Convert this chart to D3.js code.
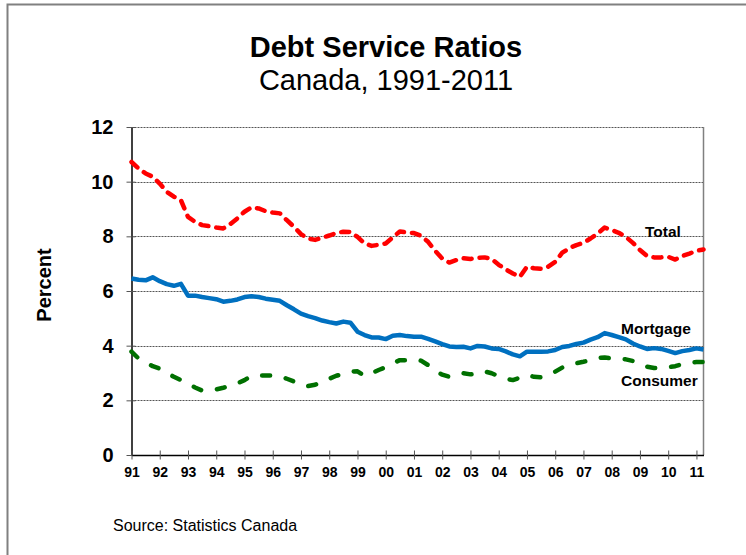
<!DOCTYPE html>
<html>
<head>
<meta charset="utf-8">
<title>Debt Service Ratios</title>
<script src="https://cdnjs.cloudflare.com/ajax/libs/d3/7.8.5/d3.min.js"></script>
<style>
  html, body { margin: 0; padding: 0; background: #fff; }
  svg { display: block; font-family: "Liberation Sans", Arial, sans-serif; }
</style>
</head>
<body>
<svg id="chart" width="746" height="555"></svg>
<script>
// Quarterly data, 1991Q1 - 2011Q2
var startYear = 1991;

var total = [
  10.72, 10.48, 10.30, 10.18, 9.93, 9.63, 9.45, 9.32,
  8.71, 8.53, 8.41, 8.37, 8.32, 8.29, 8.45, 8.66,
  8.90, 9.06, 9.02, 8.92, 8.87, 8.84, 8.59, 8.35,
  8.08, 7.92, 7.87, 7.95, 8.03, 8.12, 8.17, 8.16,
  7.98, 7.74, 7.65, 7.69, 7.74, 7.96, 8.18, 8.14,
  8.12, 8.02, 7.80, 7.47, 7.19, 7.04, 7.13, 7.20,
  7.17, 7.21, 7.23, 7.17, 6.96, 6.79, 6.64, 6.52,
  6.89, 6.83, 6.81, 6.89, 7.07, 7.40, 7.57, 7.68,
  7.76, 7.92, 8.10, 8.32, 8.23, 8.13, 7.98, 7.76,
  7.50, 7.28, 7.23, 7.23, 7.25, 7.15, 7.28, 7.37,
  7.47, 7.52
];

var mortgage = [
  6.46, 6.41, 6.39, 6.50, 6.36, 6.25, 6.19, 6.26,
  5.83, 5.83, 5.78, 5.74, 5.70, 5.61, 5.64, 5.69,
  5.78, 5.81, 5.78, 5.72, 5.68, 5.64, 5.48, 5.33,
  5.17, 5.08, 5.01, 4.92, 4.86, 4.81, 4.88, 4.84,
  4.51, 4.39, 4.30, 4.30, 4.24, 4.36, 4.39, 4.35,
  4.33, 4.33, 4.25, 4.16, 4.06, 3.97, 3.95, 3.96,
  3.90, 3.99, 3.97, 3.90, 3.88, 3.79, 3.68, 3.61,
  3.78, 3.78, 3.78, 3.79, 3.84, 3.95, 3.99, 4.06,
  4.11, 4.22, 4.31, 4.46, 4.39, 4.31, 4.23, 4.08,
  3.97, 3.88, 3.91, 3.88, 3.81, 3.73, 3.80, 3.84,
  3.90, 3.86
];

var consumer = [
  3.78, 3.53, 3.39, 3.25, 3.16, 3.01, 2.86, 2.74,
  2.60, 2.47, 2.36, 2.40, 2.40, 2.46, 2.54, 2.62,
  2.74, 2.90, 2.91, 2.91, 2.91, 2.89, 2.79, 2.69,
  2.58, 2.52, 2.57, 2.67, 2.79, 2.90, 2.97, 3.05,
  3.06, 2.89, 2.99, 3.11, 3.21, 3.35, 3.47, 3.47,
  3.50, 3.45, 3.29, 3.07, 2.94, 2.86, 2.91, 2.99,
  2.95, 2.96, 3.06, 2.99, 2.88, 2.79, 2.74, 2.83,
  2.93, 2.86, 2.84, 2.93, 3.05, 3.20, 3.30, 3.36,
  3.41, 3.47, 3.55, 3.57, 3.53, 3.51, 3.50, 3.44,
  3.33, 3.23, 3.18, 3.18, 3.21, 3.25, 3.33, 3.38,
  3.40, 3.40
];

var yearTicks = ['91', '92', '93', '94', '95', '96', '97', '98', '99', '00',
  '01', '02', '03', '04', '05', '06', '07', '08', '09', '10', '11'];
var yTicks = [0, 2, 4, 6, 8, 10, 12];

var series = [
  {name: 'Total', values: total, color: '#ff0000', dash: '8,8', labelAt: [2009.18, 7.98]},
  {name: 'Mortgage', values: mortgage, color: '#0070c0', dash: null, labelAt: [2008.33, 4.43]},
  {name: 'Consumer', values: consumer, color: '#007000', dash: '8,16', labelAt: [2008.33, 2.52]}
];

function drawChart() {
  var svg = d3.select('#chart');
  var left = 131.5, right = 703.5, top = 127, bottom = 455;

  // outer frame
  svg.append('rect')
    .attr('x', 7.5).attr('y', 4.5)
    .attr('width', 800).attr('height', 600)
    .attr('fill', 'none')
    .attr('stroke', '#808080')
    .attr('stroke-width', 2);

  var x = d3.scaleLinear()
    .domain([startYear, startYear + (total.length - 1) / 4])
    .range([left, right]);
  var y = d3.scaleLinear().domain([0, 12]).range([bottom, top]);

  // gridlines
  svg.append('g')
    .selectAll('line')
    .data(yTicks.filter(function(d) { return d > 0; }))
    .join('line')
    .attr('x1', left).attr('x2', right)
    .attr('y1', function(d) { return Math.round(y(d)) + 0.5; })
    .attr('y2', function(d) { return Math.round(y(d)) + 0.5; })
    .attr('stroke', '#555')
    .attr('stroke-width', 1)
    .attr('stroke-dasharray', '2,1');

  // right border of plot
  svg.append('line')
    .attr('x1', right).attr('x2', right)
    .attr('y1', top).attr('y2', bottom)
    .attr('stroke', '#808080')
    .attr('stroke-width', 1.5);

  var yAxis = d3.axisLeft(y)
    .tickValues(yTicks)
    .tickSizeInner(0)
    .tickSizeOuter(0)
    .tickPadding(18);
  var gy = svg.append('g')
    .attr('transform', 'translate(' + left + ',0)')
    .call(yAxis);
  gy.select('.domain').attr('stroke', '#000').attr('stroke-width', 1.5);
  gy.selectAll('.tick text')
    .attr('font-family', 'Liberation Sans, Arial, sans-serif')
    .attr('font-size', 20)
    .attr('font-weight', 'bold')
    .attr('fill', '#000');
  gy.selectAll('.tick').append('line')
    .attr('x1', -5).attr('x2', 4)
    .attr('stroke', '#555');

  var years = yearTicks.map(function(d, i) { return startYear + i; });
  var xAxis = d3.axisBottom(x)
    .tickValues(years)
    .tickFormat(function(d, i) { return yearTicks[i]; })
    .tickSizeInner(0)
    .tickSizeOuter(0)
    .tickPadding(12);
  var gx = svg.append('g')
    .attr('transform', 'translate(0,' + bottom + ')')
    .call(xAxis);
  gx.select('.domain').attr('stroke', '#000').attr('stroke-width', 1.5);
  gx.selectAll('.tick text')
    .attr('font-family', 'Liberation Sans, Arial, sans-serif')
    .attr('font-size', 14)
    .attr('font-weight', 'bold')
    .attr('fill', '#000');
  gx.selectAll('.tick').append('line')
    .attr('y1', -4.5).attr('y2', 4.5)
    .attr('stroke', '#555');

  var line = d3.line()
    .x(function(d, i) { return x(startYear + i / 4); })
    .y(function(d) { return y(d); });

  series.slice().reverse().forEach(function(s) {
    svg.append('path')
      .datum(s.values)
      .attr('d', line)
      .attr('fill', 'none')
      .attr('stroke', s.color)
      .attr('stroke-width', 4.5)
      .attr('stroke-linejoin', 'round')
      .attr('stroke-linecap', s.dash ? 'round' : 'butt')
      .attr('stroke-dasharray', s.dash);
  });

  svg.selectAll('text.series-label')
    .data(series)
    .join('text')
    .attr('class', 'series-label')
    .attr('x', function(d) { return x(d.labelAt[0]); })
    .attr('y', function(d) { return y(d.labelAt[1]); })
    .attr('font-size', 15.5)
    .attr('font-weight', 'bold')
    .text(function(d) { return d.name; });

  svg.append('text')
    .attr('x', 386).attr('y', 57)
    .attr('text-anchor', 'middle')
    .attr('font-size', 29)
    .attr('font-weight', 'bold')
    .text('Debt Service Ratios');

  svg.append('text')
    .attr('x', 386).attr('y', 90)
    .attr('text-anchor', 'middle')
    .attr('font-size', 29)
    .text('Canada, 1991-2011');

  svg.append('text')
    .attr('transform', 'translate(51,285) rotate(-90)')
    .attr('text-anchor', 'middle')
    .attr('font-size', 20)
    .attr('font-weight', 'bold')
    .text('Percent');

  svg.append('text')
    .attr('x', 113).attr('y', 531)
    .attr('font-size', 16)
    .text('Source: Statistics Canada');
}

drawChart();
</script>
</body>
</html>
